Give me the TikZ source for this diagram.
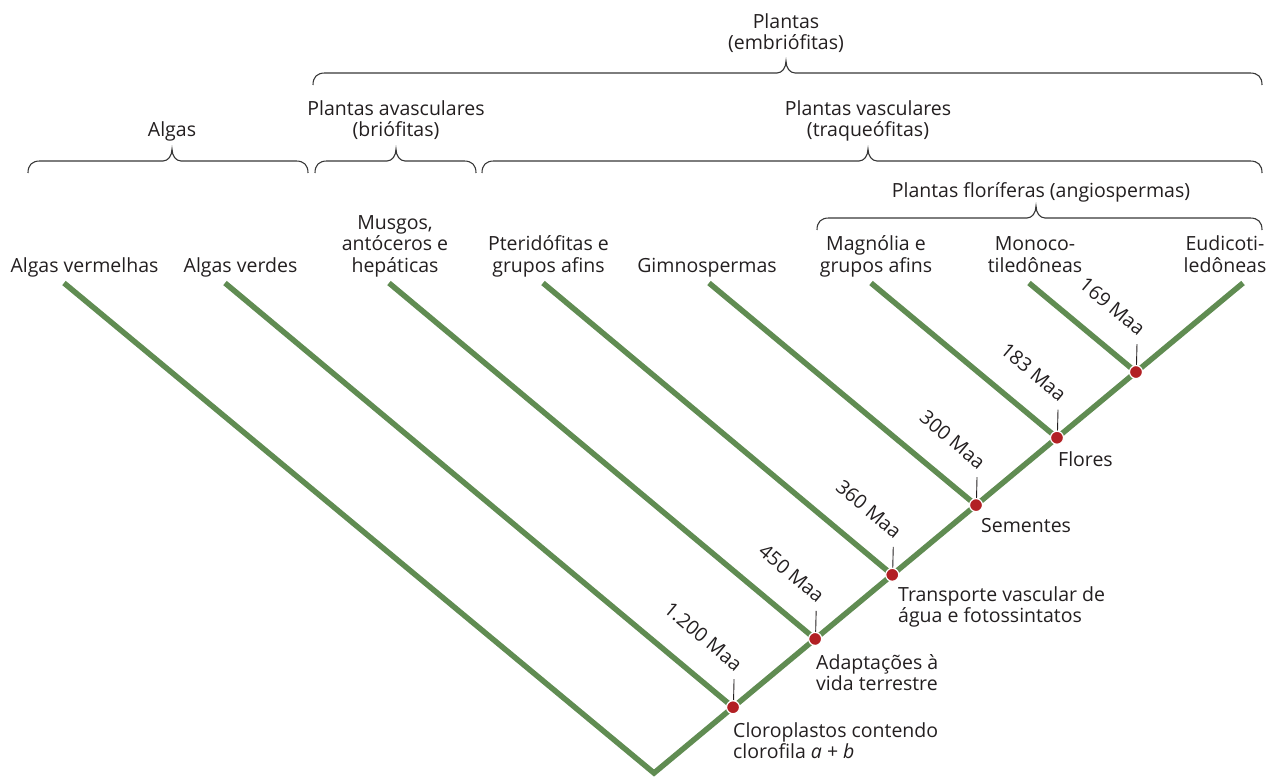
\documentclass[tikz,border=0pt]{standalone}
\usepackage{fontspec}
\setmainfont{Open Sans}
\usetikzlibrary{calc}
\definecolor{branchgreen}{RGB}{96,140,82}
\definecolor{dotred}{RGB}{178,32,36}
\definecolor{bracegray}{RGB}{55,55,55}
\definecolor{txt}{RGB}{35,31,32}
\newcommand\cladebrace[4]{%
  \draw[bracestyle] (#1,#4+12) .. controls (#1,#4+4) and (#1+4,#4) .. (#1+12,#4)
    -- (#2-9,#4) .. controls (#2-4,#4) and (#2,#4-5) .. (#2,#4-12)
    .. controls (#2,#4-5) and (#2+4,#4) .. (#2+9,#4)
    -- (#3-12,#4) .. controls (#3-4,#4) and (#3,#4+4) .. (#3,#4+12);}
\tikzset{
  lbl/.style={font=\fontsize{19.5}{21.5}\selectfont, inner sep=0pt, text=txt},
  maa/.style={lbl, rotate=-40, anchor=base east},
  event/.style={lbl, anchor=base west},
  taxon/.style={lbl, anchor=base},
  branch/.style={draw=branchgreen, line width=5.5pt},
  bracestyle/.style={draw=bracegray, line width=1.1pt},
  ticklink/.style={draw=txt, line width=0.9pt},
  evdot/.style={circle, fill=dotred, draw=white, line width=1.2pt, minimum size=13pt, inner sep=0pt}
}
\begin{document}
\begin{tikzpicture}[x=1pt,y=-1pt]
\useasboundingbox (0,0) rectangle (1266,778);
% tree skeleton
\coordinate (root) at (654,773);
\coordinate (top) at (1243,283);
\coordinate (t1) at (64,283);
\coordinate (d1) at ($(root)!0.1342!(top)$);
\coordinate (d2) at ($(root)!0.2736!(top)$);
\coordinate (d3) at ($(root)!0.4045!(top)$);
\coordinate (d4) at ($(root)!0.5467!(top)$);
\coordinate (d5) at ($(root)!0.6842!(top)$);
\coordinate (d6) at ($(root)!0.8183!(top)$);
\coordinate (t2) at (225,283);
\coordinate (t3) at (389,283);
\coordinate (t4) at (543,283);
\coordinate (t5) at (709,283);
\coordinate (t6) at (871,283);
\coordinate (t7) at (1029,283);
% branches
\draw[branch, line join=miter] (t1) -- (root) -- (top);
\draw[branch] (d1) -- (t2);
\draw[branch] (d2) -- (t3);
\draw[branch] (d3) -- (t4);
\draw[branch] (d4) -- (t5);
\draw[branch] (d5) -- (t6);
\draw[branch] (d6) -- (t7);
% ticks
\foreach \d in {d1,d2,d3,d4,d5,d6}{
  \coordinate (\d up) at ($(\d)+(1,-28)$);
  \draw[ticklink] ($(\d)+(0.5,-7)$) -- (\d up);
}
% dots
\node[evdot] (n1) at (d1) {};
\node[evdot] (n2) at (d2) {};
\node[evdot] (n3) at (d3) {};
\node[evdot] (n4) at (d4) {};
\node[evdot] (n5) at (d5) {};
\node[evdot] (n6) at (d6) {};
% age labels
\node[maa] (a1) at ($(d1)+(2,-35)$) {1.200 Maa};
\node[maa] (a2) at ($(d2)+(2,-35)$) {450 Maa};
\node[maa] (a3) at ($(d3)+(2,-35)$) {360 Maa};
\node[maa] (a4) at ($(d4)+(2,-35)$) {300 Maa};
\node[maa] (a5) at ($(d5)+(2,-35)$) {183 Maa};
\node[maa] (a6) at ($(d6)+(2,-35)$) {169 Maa};
% event labels
\node[event] (e1) at (733,737) {\begin{tabular}[t]{@{}l@{}}Cloroplastos contendo\\clorofila \textit{a} + \textit{b}\end{tabular}};
\node[event] (e2) at (816,669) {\begin{tabular}[t]{@{}l@{}}Adaptações à\\vida terrestre\end{tabular}};
\node[event] (e3) at (898,601) {\begin{tabular}[t]{@{}l@{}}Transporte vascular de\\água e fotossintatos\end{tabular}};
\node[event] (e4) at (981,532) {Sementes};
\node[event] (e5) at (1058,466) {Flores};
% taxa
\node[taxon] (x1) at (84.5,272) {Algas vermelhas};
\node[taxon] (x2) at (240.5,272) {Algas verdes};
\node[taxon] (x3) at (395,272) {\begin{tabular}[b]{@{}c@{}}Musgos,\\antóceros e\\hepáticas\end{tabular}};
\node[taxon] (x4) at (548.5,272) {\begin{tabular}[b]{@{}c@{}}Pteridófitas e\\grupos afins\end{tabular}};
\node[taxon] (x5) at (707,272) {Gimnospermas};
\node[taxon] (x6) at (876,272) {\begin{tabular}[b]{@{}c@{}}Magnólia e\\grupos afins\end{tabular}};
\node[taxon] (x7) at (1035,272) {\begin{tabular}[b]{@{}c@{}}Monoco-\\tiledôneas\end{tabular}};
\node[taxon] (x8) at (1225,272) {\begin{tabular}[b]{@{}c@{}}Eudicoti-\\ledôneas\end{tabular}};
% group labels
\node[taxon] (g1) at (786,50) {\begin{tabular}[b]{@{}c@{}}Plantas\\(embriófitas)\end{tabular}};
\node[taxon] (g2) at (172,137) {Algas};
\node[taxon] (g3) at (396,137) {\begin{tabular}[b]{@{}c@{}}Plantas avasculares\\(briófitas)\end{tabular}};
\node[taxon] (g4) at (868,137) {\begin{tabular}[b]{@{}c@{}}Plantas vasculares\\(traqueófitas)\end{tabular}};
\node[taxon] (g5) at (1041,197) {Plantas floríferas (angiospermas)};
% braces
\cladebrace{313}{786}{1262}{73}
\cladebrace{28}{172}{308}{161}
\cladebrace{315}{396}{476}{161}
\cladebrace{482}{868}{1262}{161}
\cladebrace{817}{1036}{1262}{218}
\end{tikzpicture}
\end{document}
